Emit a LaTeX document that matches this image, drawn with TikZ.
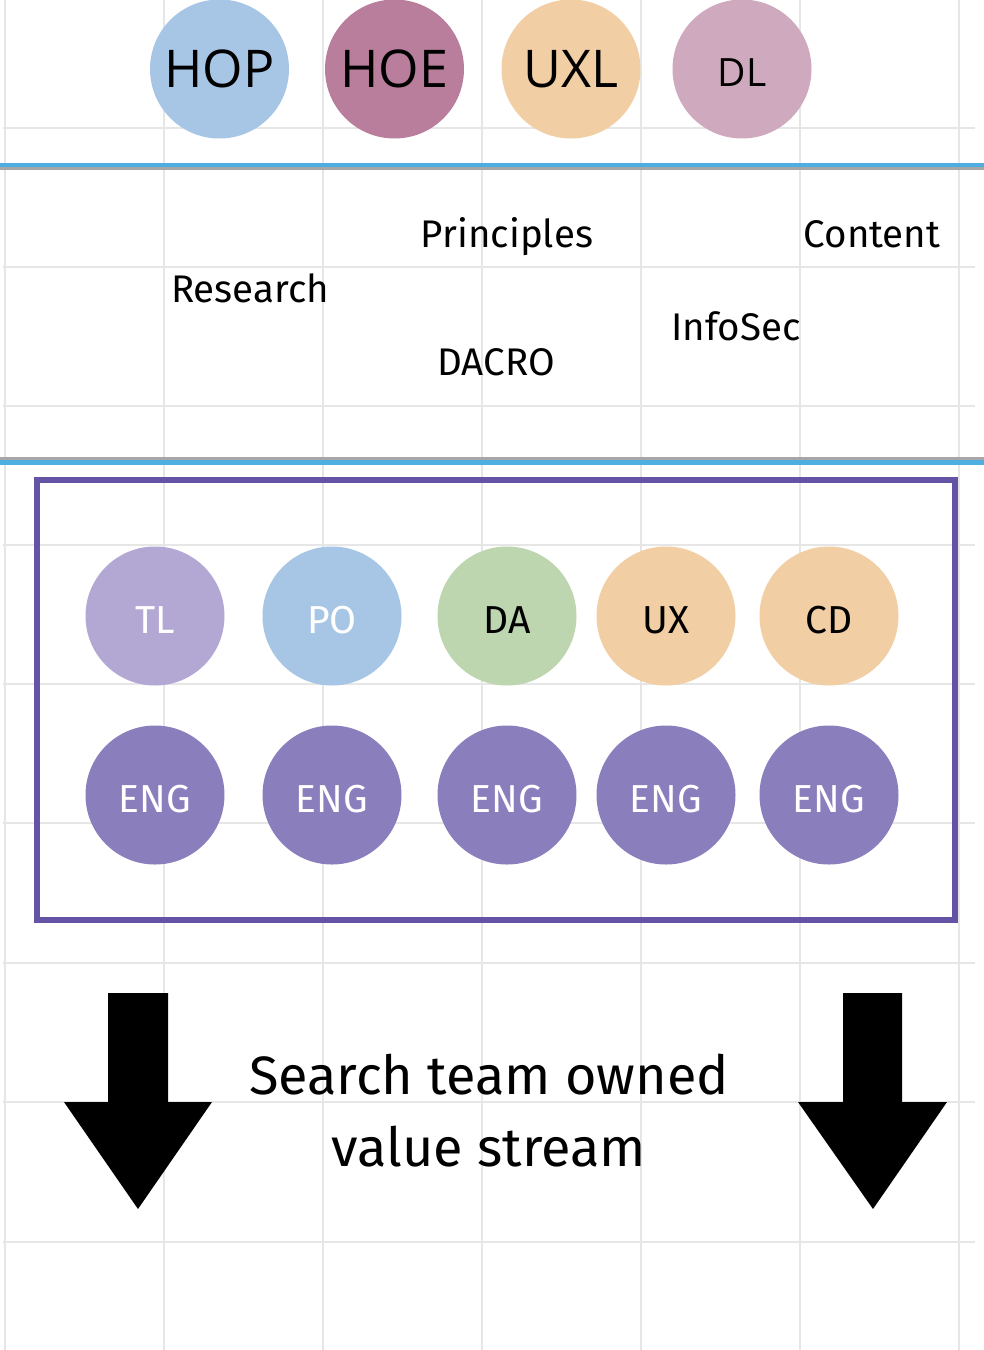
\documentclass[tikz,border=0pt]{standalone}
\usepackage{fontspec}
\setmainfont{Fira Sans}
\newfontfamily\topfont{Open Sans}
\definecolor{gridc}{HTML}{E6E6E6}
\definecolor{sepblue}{HTML}{4EAEDF}
\definecolor{sepgray}{HTML}{A6A6A6}
\definecolor{boxc}{HTML}{6554A5}
\definecolor{hopc}{HTML}{A7C6E5}
\definecolor{hoec}{HTML}{B97E9C}
\definecolor{uxlc}{HTML}{F2CEA4}
\definecolor{dlc}{HTML}{CFA9BD}
\definecolor{tlc}{HTML}{B3A8D3}
\definecolor{dac}{HTML}{BDD6AF}
\definecolor{engc}{HTML}{8B7EBD}
\tikzset{
  bubble/.style={circle, minimum size=139pt, inner sep=0pt, draw=none},
  topb/.style={bubble, font=\topfont\fontsize{52}{52}\selectfont},
  teamtext/.style={inner sep=0pt, font=\fontsize{39}{39}\selectfont},
  lbl/.style={inner sep=0pt, anchor=base, font=\fontsize{38.5}{38.5}\selectfont},
  gridline/.style={draw=gridc, line width=1.6pt},
}
\begin{document}
\begin{tikzpicture}[x=1pt,y=-1pt]
\useasboundingbox (0,0) rectangle (984,1350);
\fill[white] (0,0) rectangle (984,1350);
% grid
\foreach \gx in {5,164,323,482,641,800,959}
  \draw[gridline] (\gx,0) -- (\gx,1350);
\foreach \gy in {128,267,406,545,684,823,963,1102,1242}
  \draw[gridline] (3,\gy) -- (975,\gy);
% separators
\draw[sepgray, line width=3pt] (0,168.5) -- (984,168.5);
\draw[sepblue, line width=4pt] (0,165) -- (984,165);
\draw[sepgray, line width=3pt] (0,458.5) -- (984,458.5);
\draw[sepblue, line width=4.5pt] (0,462.5) -- (984,462.5);
% top circles
\node[topb, fill=hopc] (hop) at (219.5,69) {HOP};
\node[topb, fill=hoec] (hoe) at (394.5,69) {HOE};
\node[topb, fill=uxlc] (uxl) at (571,69) {UXL};
\node[bubble, fill=dlc] (dl) at (742,69) {};
\node[inner sep=0pt, font=\topfont\fontsize{39}{39}\selectfont] (dltext) at (742,73) {DL};
% labels
\node[lbl] (research) at (250,302) {Research};
\node[lbl] (principles) at (507,247) {Principles};
\node[lbl] (dacro) at (496,375) {DACRO};
\node[lbl] (infosec) at (736,340) {InfoSec};
\node[lbl] (content) at (872,247.5) {Content};
% team box
\draw[boxc, line width=6pt] (37,480) rectangle (955,920);
\node[bubble, fill=tlc] (tl) at (155,616) {};
\node[bubble, fill=hopc] (po) at (332,616) {};
\node[bubble, fill=dac] (da) at (507,616) {};
\node[bubble, fill=uxlc] (ux) at (666,616) {};
\node[bubble, fill=uxlc] (cd) at (829,616) {};
\node[teamtext, text=white] (tlt) at (155,620) {TL};
\node[teamtext, text=white] (pot) at (332,620) {PO};
\node[teamtext] (dat) at (507,620) {DA};
\node[teamtext] (uxt) at (666,620) {UX};
\node[teamtext] (cdt) at (829,620) {CD};
\foreach \n/\ex in {1/155,2/332,3/507,4/666,5/829}{
  \node[bubble, fill=engc] (eng\n) at (\ex,795) {};
  \node[teamtext, text=white] (engt\n) at (\ex,799) {ENG};
}
% arrows
\fill[black] (108,993) -- (168,993) -- (168,1102) -- (212,1102) -- (138,1209) -- (64,1102) -- (108,1102) -- cycle;
\fill[black] (843,993) -- (902,993) -- (902,1102) -- (947,1102) -- (873,1209) -- (798,1102) -- (843,1102) -- cycle;
\node[align=center, inner sep=0pt, font=\fontsize{54}{72}\selectfont] (stream) at (489,1111) {Search team owned\\value stream};
\end{tikzpicture}
\end{document}
